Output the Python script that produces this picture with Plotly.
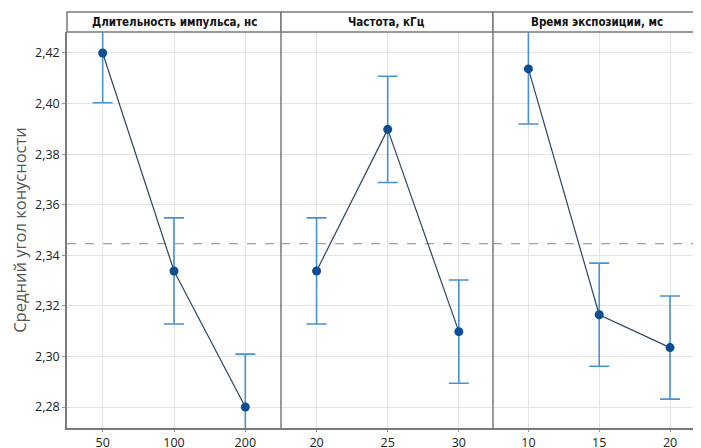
import plotly.graph_objects as go

panel_titles = ["Длительность импульса, нс", "Частота, кГц", "Время экспозиции, мс"]
levels = [["50", "100", "200"], ["20", "25", "30"], ["10", "15", "20"]]
means = [[2.4200, 2.3338, 2.2800], [2.3338, 2.3898, 2.3098], [2.4137, 2.3165, 2.3035]]
ci_half = [[0.0197, 0.0210, 0.0209], [0.0210, 0.0210, 0.0204], [0.0218, 0.0204, 0.0204]]
grand_mean = 2.3446
y_ticks = [2.28, 2.30, 2.32, 2.34, 2.36, 2.38, 2.40, 2.42]
y_ticklabels = ["2,28", "2,30", "2,32", "2,34", "2,36", "2,38", "2,40", "2,42"]
y_title = "Средний угол конусности"

# page has an 8px body margin; compensate in figure margins
OFF = 8
W, H = 701, 448
ml, mt = 67 - OFF, 32 - OFF
axis_bottom = 428 - OFF
mb = H - axis_bottom
mr = 0
pw = W - ml - mr
ph = H - mt - mb
bounds_px = [67, 281, 493, 701 + OFF]
doms = [[(bounds_px[i] - 67) / pw, (bounds_px[i + 1] - 67) / pw] for i in range(3)]
doms[2][1] = 1.0
xranges = [[-0.5, 2.5], [-0.5, 2.48], [-0.5, 2.55]]

line_col = "#2c4660"
marker_col = "#0d4d94"
err_col = "#4a90d6"
grid_col = "#e4e4e4"
frame_col = "#7a7a7a"
tick_font = dict(family="Open Sans", size=12.5, color="#222222")

fig = go.Figure()
for i in range(3):
    xa = "x" if i == 0 else f"x{i+1}"
    fig.add_trace(go.Scatter(
        x=levels[i], y=means[i], xaxis=xa, yaxis="y",
        mode="lines+markers",
        line=dict(color=line_col, width=1.2),
        marker=dict(color=marker_col, size=9, symbol="circle"),
        error_y=dict(type="data", array=ci_half[i], color=err_col, thickness=1.6, width=10),
        showlegend=False, cliponaxis=True,
    ))
    key = "xaxis" if i == 0 else f"xaxis{i+1}"
    fig.layout[key] = dict(
        domain=doms[i], anchor="y", type="category", range=xranges[i],
        showgrid=True, gridcolor=grid_col, gridwidth=1,
        showline=True, linecolor=frame_col, linewidth=1.5,
        ticks="outside", ticklen=2, tickcolor="#999999",
        tickfont=tick_font,
        automargin=False, zeroline=False, fixedrange=True,
    )
    fig.add_shape(type="rect", xref="paper", yref="paper",
                  x0=doms[i][0], x1=doms[i][1], y0=1, y1=1 + 20 / ph,
                  line=dict(color=frame_col, width=1.5), fillcolor="white", layer="above")
    right_vis = (bounds_px[i + 1] - 67) / pw if i < 2 else (701 - 67) / pw
    fig.add_annotation(xref="paper", yref="paper", x=(doms[i][0] + right_vis) / 2,
                       y=1 + 10 / ph, text=f"<b>{panel_titles[i]}</b>", showarrow=False,
                       font=dict(family="DejaVu Sans Condensed", size=11.5, color="#111111"),
                       xanchor="center", yanchor="middle")
    if i > 0:
        fig.add_shape(type="line", xref="paper", yref="paper",
                      x0=doms[i][0], x1=doms[i][0], y0=0, y1=1,
                      line=dict(color=frame_col, width=1.5), layer="above")
    fig.add_shape(type="line", xref=f"{xa} domain", yref="y",
                  x0=0, x1=1, y0=grand_mean, y1=grand_mean,
                  line=dict(color="#a0a0a0", width=1.3, dash="dash"), layer="below")

fig.update_layout(
    width=W, height=H,
    margin=dict(l=ml, r=mr, t=mt, b=mb),
    paper_bgcolor="white", plot_bgcolor="white",
    yaxis=dict(
        range=[2.2717, 2.4283], tickvals=y_ticks, ticktext=y_ticklabels,
        showgrid=True, gridcolor=grid_col, gridwidth=1,
        showline=True, linecolor=frame_col, linewidth=1.5,
        ticks="outside", ticklen=3, tickcolor="#999999",
        tickfont=tick_font,
        zeroline=False, automargin=False, fixedrange=True,
        title=dict(text=y_title, font=dict(family="Open Sans", size=16.5, color="#555555"), standoff=10),
    ),
)

fig.write_html("out.html")
